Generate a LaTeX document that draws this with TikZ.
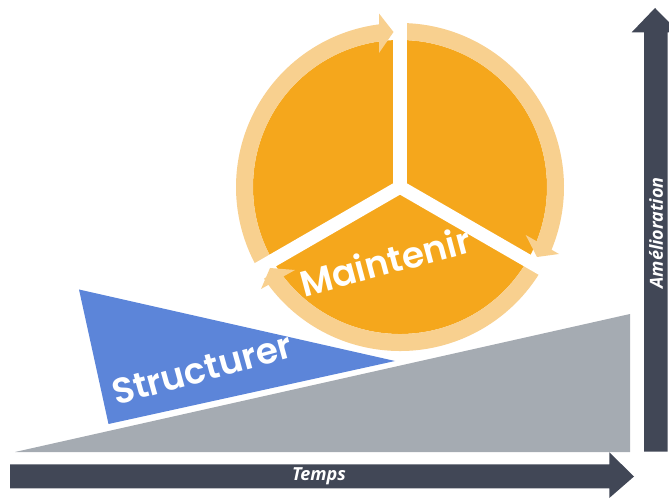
\documentclass[tikz,border=0pt]{standalone}
\usepackage{fontspec}
\setmainfont{Lato}
\newfontfamily\headf{Poppins}[BoldFont={Poppins SemiBold}]
\newfontfamily\axisf{Open Sans}
\definecolor{ringc}{HTML}{F8D08F}
\definecolor{orangec}{HTML}{F5A71C}
\definecolor{bluec}{HTML}{5C85D9}
\definecolor{greyc}{HTML}{A5ABB2}
\definecolor{darkc}{HTML}{414756}
\tikzset{
  x=1pt,y=1pt,
  ringpart/.style={fill=ringc},
  spoke/.style={draw=white,line width=13.3pt},
  bigtext/.style={text=white,font=\headf\bfseries\fontsize{36}{36}\selectfont,inner sep=0pt},
  axistext/.style={text=white,font=\axisf\itshape\bfseries\fontsize{18}{18}\selectfont,inner sep=0pt},
}
\begin{document}
\begin{tikzpicture}
\useasboundingbox (0,0) rectangle (669,498);
\clip (0,0) rectangle (669,498);
% wedge and triangle
\fill[greyc] (15,46) -- (630,184) -- (630,46) -- cycle;
\fill[bluec] (79,208.5) -- (108.5,74) -- (395,137) -- cycle;
% axes
\fill[darkc] (10,33.7) -- (609.3,33.7) -- (609.3,45.7) -- (634,21.5) -- (609.3,0) -- (609.3,9.7) -- (10,9.7) -- cycle;
\fill[darkc] (644,46.3) -- (644,465.7) -- (631.7,465.7) -- (655,490) -- (679,465.7) -- (667.7,465.7) -- (667.7,46.3) -- cycle;
% wheel
\coordinate (c) at (400,311);
\fill[orangec] (c) circle[radius=147];
\fill[ringpart] ([shift={(210:147)}]c) arc[start angle=210,end angle=96,radius=147]
  -- ([shift={(96:164)}]c) arc[start angle=96,end angle=210,radius=164] -- cycle;
\fill[ringpart] ([shift={(90:147)}]c) arc[start angle=90,end angle=-24,radius=147]
  -- ([shift={(-24:164)}]c) arc[start angle=-24,end angle=90,radius=164] -- cycle;
\fill[ringpart] ([shift={(-30:147)}]c) arc[start angle=-30,end angle=-146,radius=147]
  -- ([shift={(-146:164)}]c) arc[start angle=-146,end angle=-30,radius=164] -- cycle;
\draw[spoke] (c) -- ++(90:180);
\draw[spoke] (c) -- ++(-30:180);
\draw[spoke] (c) -- ++(210:180);
% arrowheads
\fill[ringpart] (379,484.5) -- (393.5,466) -- (379,445) -- cycle;
\fill[ringpart] (525.7,263) -- (537,241) -- (559,244) -- cycle;
\fill[ringpart] (295,228) -- (270,230) -- (261,209) -- cycle;
% texts
\node[bigtext,rotate=15] (maintenir) at (385,237) {Maintenir};
\node[bigtext,rotate=15.5] (structurer) at (202,129) {Structurer};
\node[axistext] (temps) at (319,21.5) {Temps};
\node[axistext,rotate=90] (amelioration) at (656,265) {Amélioration};
\end{tikzpicture}
\end{document}
